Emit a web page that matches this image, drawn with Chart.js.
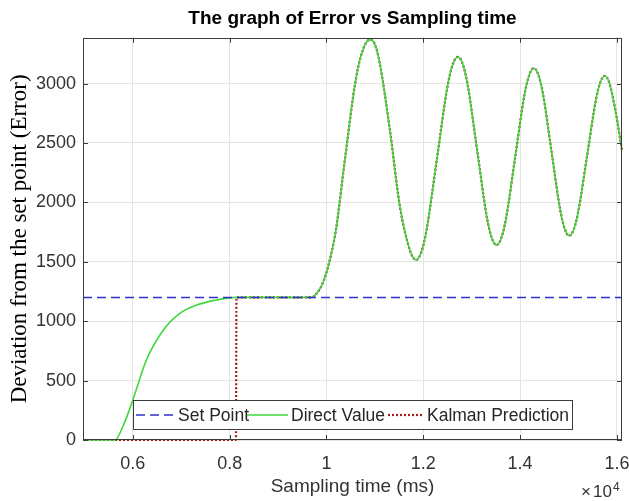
<!DOCTYPE html>
<html><head><meta charset="utf-8">
<script src="https://cdn.jsdelivr.net/npm/chart.js@4"></script>
<style>html,body{margin:0;padding:0;background:#fff}#c{display:block}</style>
</head><body>
<canvas id="c" width="629" height="501"></canvas>
<script>
// ---- data ----
const directTimes = [4970, 5630, 5800, 6000, 6280, 6630, 6970, 7320, 7660, 8140, 8900, 9690,
  9800, 9900, 10000, 10100, 10200, 10345, 10450, 10550, 10650, 10725, 10820, 10900,
  11000, 11100, 11310, 11517, 11720, 11800, 11850,
  11958, 12066, 12283, 12499, 12607, 12715,
  12815, 12915, 13115, 13314, 13414, 13514,
  13610, 13707, 13900, 14092, 14189, 14285,
  14376, 14468, 14650, 14833, 14924, 15015,
  15107, 15199, 15384, 15568, 15660, 15752,
  15840, 15930, 16010, 16076, 16105];
const directValues = [0, 0, 120, 337, 673, 926, 1066, 1136, 1173, 1200, 1200, 1200,
  1235, 1300, 1410, 1570, 1780, 2245, 2580, 2890, 3130, 3250, 3345, 3370,
  3330, 3173, 2609, 1964, 1600, 1530, 1515,
  1580, 1765, 2370, 2974, 3159, 3224,
  3164, 2992, 2432, 1873, 1701, 1641,
  1698, 1859, 2385, 2911, 3072, 3129,
  3075, 2923, 2425, 1926, 1774, 1720,
  1771, 1917, 2392, 2867, 3013, 3064,
  3010, 2855, 2680, 2511, 2440];
const kalmanLeadTimes = [4970, 8130];
const kalmanLeadValues = [0, 0];
const kalmanStartTime = 8140;
const setPointTimes = [4970, 16105];
const setPointValues = [1200, 1200];
const xTickValues = [6000, 8000, 10000, 12000, 14000, 16000];
const yTickValues = [0, 500, 1000, 1500, 2000, 2500, 3000];
const legendLabels = ['Set Point', 'Direct Value', 'Kalman Prediction'];

// ---- build library data ----
const toPts = (ts, vs) => ts.map((t, i) => ({x: t, y: vs[i]}));
const directPts = toPts(directTimes, directValues);
const kalmanPts = toPts(kalmanLeadTimes, kalmanLeadValues).concat(directPts.filter(p => p.x >= kalmanStartTime));
const setPts = toPts(setPointTimes, setPointValues);

const SANS = '"Liberation Sans", Arial, Helvetica, sans-serif';
const SERIF = '"Liberation Serif", "Times New Roman", serif';

const decor = {
  id: 'decor',
  afterDraw(chart) {
    const {ctx, chartArea: a, scales: {x, y}} = chart;
    ctx.save();
    // axes box
    ctx.strokeStyle = '#3c3c3c'; ctx.lineWidth = 1; ctx.setLineDash([]);
    ctx.strokeRect(Math.round(a.left) + 0.5, Math.round(a.top) + 0.5, Math.round(a.right - a.left) - 1, Math.round(a.bottom - a.top) - 1);
    // inward ticks
    ctx.beginPath();
    xTickValues.forEach(v => {
      const px = Math.round(x.getPixelForValue(v)) + 0.5;
      ctx.moveTo(px, a.bottom); ctx.lineTo(px, a.bottom - 5);
      ctx.moveTo(px, a.top); ctx.lineTo(px, a.top + 5);
    });
    yTickValues.forEach(v => {
      const py = Math.round(y.getPixelForValue(v)) + 0.5;
      ctx.moveTo(a.left, py); ctx.lineTo(a.left + 5, py);
      ctx.moveTo(a.right, py); ctx.lineTo(a.right - 5, py);
    });
    ctx.stroke();
    // legend
    const bx = 133.5, by = 400.5, bw = 439, bh = 29;
    ctx.fillStyle = '#fff'; ctx.fillRect(bx, by, bw, bh);
    ctx.strokeStyle = '#3c3c3c'; ctx.lineWidth = 1; ctx.strokeRect(bx, by, bw, bh);
    const ly = by + bh / 2;
    const samples = [[136, 175, 178], [247, 288, 291], [388, 424, 427]];
    chart.data.datasets.forEach((ds, i) => {
      const [s0, s1, tx] = samples[i];
      ctx.beginPath();
      ctx.strokeStyle = ds.borderColor; ctx.lineWidth = ds.borderWidth;
      ctx.setLineDash(ds.borderDash || []);
      ctx.moveTo(s0, ly); ctx.lineTo(s1, ly); ctx.stroke();
      ctx.setLineDash([]);
      ctx.fillStyle = '#262626'; ctx.font = '17.5px ' + SANS;
      ctx.textBaseline = 'middle'; ctx.textAlign = 'left';
      ctx.fillText(legendLabels[i], tx, ly + 1);
    });
    // exponent label
    ctx.fillStyle = '#333'; ctx.font = '17px ' + SANS; ctx.textBaseline = 'alphabetic';
    ctx.fillText('\u00d7', 581, 497);
    ctx.fillText('10', 593, 497);
    ctx.font = '12px ' + SANS;
    ctx.fillText('4', 613, 491);
    ctx.restore();
  }
};

new Chart(document.getElementById('c'), {
  type: 'line',
  data: {
    datasets: [
      {label: legendLabels[0], data: setPts, borderColor: '#3232c8', borderWidth: 1.5, borderDash: [9, 5], pointRadius: 0, tension: 0, clip: false},
      {label: legendLabels[1], data: directPts, borderColor: '#3ed83e', borderWidth: 1.6, pointRadius: 0, cubicInterpolationMode: 'monotone', clip: false},
      {label: legendLabels[2], data: kalmanPts, borderColor: '#a41a1a', borderWidth: 2.2, borderDash: [2, 2], pointRadius: 0, cubicInterpolationMode: 'monotone', clip: false}
    ]
  },
  options: {
    responsive: false,
    animation: false,
    devicePixelRatio: 1,
    layout: {padding: {left: 0, right: 7, top: 0, bottom: 0}},
    plugins: {
      legend: {display: false},
      tooltip: {enabled: false},
      title: {display: true, fullSize: false, text: 'The graph of Error vs Sampling time', color: '#000',
        font: {family: SANS, size: 19, weight: 'bold'}, padding: {top: 7, bottom: 8}}
    },
    scales: {
      x: {
        type: 'linear', min: 4970, max: 16105,
        afterBuildTicks: s => { s.ticks = xTickValues.map(v => ({value: v})); },
        afterFit: s => { s.height = 61; s.paddingLeft = 0; s.paddingRight = 0; },
        grid: {color: '#e4e4e4', drawTicks: false},
        border: {display: false},
        ticks: {padding: 13, color: '#333', font: {family: SANS, size: 18}, callback: v => String(v / 10000), maxRotation: 0},
        title: {display: true, text: 'Sampling time (ms)', color: '#333', font: {family: SANS, size: 19}, padding: {top: 0, bottom: 3}}
      },
      y: {
        type: 'linear', min: 0, max: 3385,
        afterBuildTicks: s => { s.ticks = yTickValues.map(v => ({value: v})); },
        afterFit: s => { s.width = 83; s.paddingTop = 0; s.paddingBottom = 0; },
        grid: {color: '#e4e4e4', drawTicks: false},
        border: {display: false},
        ticks: {padding: 7, color: '#333', font: {family: SANS, size: 18}, callback: v => String(v)},
        title: {display: true, text: 'Deviation from the set point (Error)', color: '#000', font: {family: SERIF, size: 23}, padding: {top: 6, bottom: 0}}
      }
    }
  },
  plugins: [decor]
});
</script>
</body></html>
